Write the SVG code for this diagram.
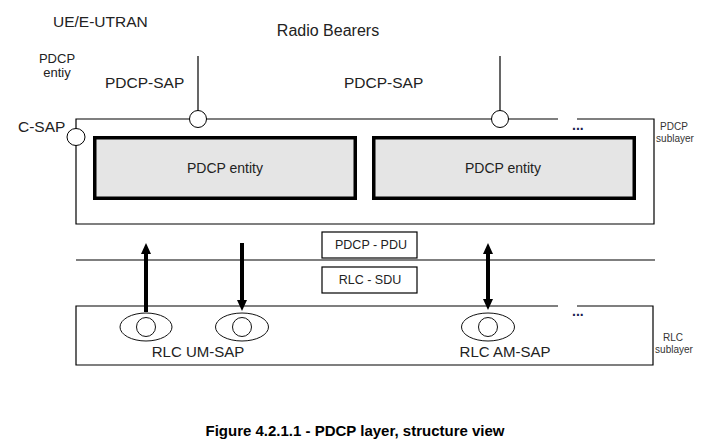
<svg xmlns="http://www.w3.org/2000/svg" width="721" height="442" viewBox="0 0 721 442">
<style>
  text { font-family: "Liberation Sans", Arial, sans-serif; fill: #222; }
  .lbl { font-size: 15.5px; }
  .small { font-size: 13px; }
  .tiny { font-size: 10px; fill: #333; }
  .ent { font-size: 14px; text-anchor: middle; }
  .pdu { font-size: 12.5px; text-anchor: middle; }
  .frame { fill: none; stroke: #000; stroke-width: 1.2; }
  .entity { fill: #e5e5e5; stroke: #000; stroke-width: 3.5; }
  .sap { fill: #fff; stroke: #000; stroke-width: 1; }
  .ell { fill: #fff; stroke: #111; stroke-width: 1; }
  .arrow { stroke: #000; stroke-width: 4; fill: none; }
  .dots { font-size: 14px; font-weight: bold; fill: #1a1a50; }
  .cap { font-size: 15px; font-weight: bold; fill: #000; text-anchor: middle; }
</style>
<defs>
  <marker id="ah" markerUnits="userSpaceOnUse" markerWidth="12" markerHeight="12" refX="0" refY="5" orient="auto-start-reverse">
    <path d="M0,0 L11,5 L0,10 Z" fill="#000"/>
  </marker>
</defs>
<rect width="721" height="442" fill="#fff"/>

<text class="lbl" x="53" y="27">UE/E-UTRAN</text>
<text class="lbl" x="328" y="36" text-anchor="middle" style="font-size:16px">Radio Bearers</text>
<text class="small" x="57" y="63" text-anchor="middle">PDCP</text>
<text class="small" x="57" y="77" text-anchor="middle">entiy</text>
<text class="lbl" x="105" y="88">PDCP-SAP</text>
<text class="lbl" x="344" y="88">PDCP-SAP</text>
<text class="lbl" x="18" y="132">C-SAP</text>

<g id="pdcp-sublayer">
  <path class="frame" d="M558,119 H76 V224 H654 V119 H577"/>
  <text class="dots" x="572" y="130">...</text>
  <text class="tiny" x="674" y="130" text-anchor="middle">PDCP</text>
  <text class="tiny" x="675" y="142" text-anchor="middle">sublayer</text>
</g>

<g id="pdcp-sap-1">
  <line x1="198" y1="56" x2="198" y2="111" stroke="#000" stroke-width="1.2"/>
  <circle class="sap" cx="198" cy="119" r="8.5"/>
</g>
<g id="pdcp-sap-2">
  <line x1="500" y1="56" x2="500" y2="111" stroke="#000" stroke-width="1.2"/>
  <circle class="sap" cx="500" cy="119" r="8.5"/>
</g>
<g id="c-sap">
  <ellipse class="sap" cx="76" cy="137" rx="9" ry="8.5"/>
</g>

<g id="pdcp-entity-1">
  <rect class="entity" x="94.75" y="137.75" width="260.5" height="60.5"/>
  <text class="ent" x="225" y="173">PDCP entity</text>
</g>
<g id="pdcp-entity-2">
  <rect class="entity" x="373.75" y="137.75" width="260.5" height="60.5"/>
  <text class="ent" x="503" y="173">PDCP entity</text>
</g>

<line x1="76" y1="260" x2="655" y2="260" stroke="#000" stroke-width="1.2"/>

<g id="pdcp-pdu">
  <rect class="frame" x="322" y="232" width="95" height="26"/>
  <text class="pdu" x="371" y="249">PDCP - PDU</text>
</g>
<g id="rlc-sdu">
  <rect class="frame" x="322" y="267" width="95" height="26"/>
  <text class="pdu" x="370" y="284">RLC - SDU</text>
</g>

<g id="rlc-sublayer">
  <path class="frame" d="M558,306 H76 V365 H653 V306 H577"/>
  <text class="dots" x="572" y="316">...</text>
  <text class="tiny" x="673" y="341" text-anchor="middle">RLC</text>
  <text class="tiny" x="674" y="353" text-anchor="middle">sublayer</text>
</g>

<g id="um-sap-1">
  <ellipse class="ell" cx="146" cy="327" rx="26" ry="14"/>
  <circle class="ell" cx="146" cy="327" r="9.5"/>
</g>
<g id="um-sap-2">
  <ellipse class="ell" cx="242" cy="327" rx="26.5" ry="14"/>
  <circle class="ell" cx="242" cy="327" r="9.5"/>
</g>
<g id="am-sap">
  <ellipse class="ell" cx="488" cy="327" rx="26.5" ry="14"/>
  <circle class="ell" cx="488" cy="327" r="9.5"/>
</g>
<text class="lbl" x="198" y="357" text-anchor="middle" style="font-size:15px">RLC UM-SAP</text>
<text class="lbl" x="505" y="357" text-anchor="middle" style="font-size:15px">RLC AM-SAP</text>

<g id="connectors">
  <line class="arrow" x1="146" y1="312" x2="146" y2="254" marker-end="url(#ah)"/>
  <line class="arrow" x1="242" y1="243" x2="242" y2="300" marker-end="url(#ah)"/>
  <line class="arrow" x1="488" y1="254" x2="488" y2="299" marker-start="url(#ah)" marker-end="url(#ah)"/>
</g>

<text class="cap" x="355" y="436">Figure 4.2.1.1 - PDCP layer, structure view</text>
</svg>
